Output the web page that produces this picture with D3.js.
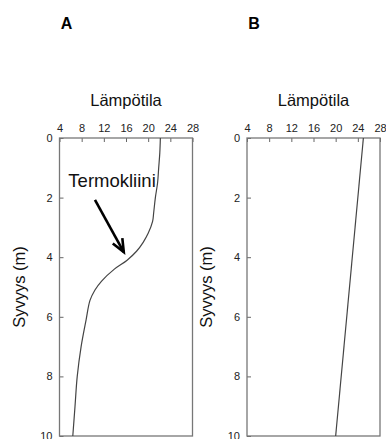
<!DOCTYPE html>
<html>
<head>
<meta charset="utf-8">
<script src="https://cdn.jsdelivr.net/npm/d3@7"></script>
<style>
  body { margin: 0; background: #fff; }
  svg { display: block; font-family: 'Liberation Sans', Arial, sans-serif; }
</style>
</head>
<body>
<div id="chart"></div>
<script>
// data
const xTicks = [4, 8, 12, 16, 20, 24, 28];
const yTicks = [0, 2, 4, 6, 8, 10];

// panel A: lake with thermocline
const depthA = [0, 0.5, 1, 1.5, 2, 2.5, 2.8, 3.2, 3.5, 3.8, 4.1, 4.4, 4.8, 5.1, 5.45, 6.1, 7.0, 8.0, 9.0, 10];
const tempA  = [22.2, 22.1, 21.9, 21.7, 21.3, 21.0, 20.8, 20.0, 19.1, 17.9, 16.2, 13.9, 11.6, 10.4, 9.5, 8.8, 7.9, 7.2, 6.8, 6.4];

// panel B: mixed lake
const depthB = [0, 10];
const tempB  = [25, 20];

const panels = [
  {letter: 'A', left: 59.5, depth: depthA, temp: tempA},
  {letter: 'B', left: 247, depth: depthB, temp: tempB}
];

const width = 386, height = 439;
const plotW = 133, plotTop = 138, plotBottom = 436;

const svg = d3.select('#chart')
  .append('svg')
  .attr('width', width)
  .attr('height', height);

panels.forEach(p => {
  const g = svg.append('g').attr('transform', `translate(${p.left},${plotTop})`);

  const x = d3.scaleLinear().domain([4, 28]).range([0, plotW]);
  const y = d3.scaleLinear().domain([0, 10]).range([0, plotBottom - plotTop]);

  //panel letter
  svg.append('text')
    .attr('x', p.left + 7)
    .attr('y', 29)
    .attr('text-anchor', 'middle')
    .style('font-size', '16px')
    .style('font-weight', 'bold')
    .text(p.letter);

  //axis title on top
  g.append('text')
    .attr('x', plotW / 2)
    .attr('y', -32)
    .attr('text-anchor', 'middle')
    .style('font-size', '16.5px')
    .style('fill', '#111')
    .text('Lämpötila');

  //y title
  g.append('text')
    .attr('transform', `translate(${-35},${(plotBottom - plotTop) / 2}) rotate(-90)`)
    .attr('text-anchor', 'middle')
    .style('font-size', '16.5px')
    .style('fill', '#111')
    .text('Syvyys (m)');

  const xAxis = g.append('g')
    .call(d3.axisTop(x).tickValues(xTicks).tickSize(-4).tickPadding(6));
  const yAxis = g.append('g')
    .call(d3.axisLeft(y).tickValues(yTicks).tickSize(-4).tickPadding(7));

  [xAxis, yAxis].forEach(a => {
    a.select('.domain').remove();
    a.selectAll('line').attr('stroke', '#666');
    a.selectAll('text').style('font-size', '11px').style('font-family', "'Liberation Sans', Arial, sans-serif").attr('fill', '#222');
  });

  //frame
  g.append('rect')
    .attr('x', 0)
    .attr('y', 0)
    .attr('width', plotW)
    .attr('height', plotBottom - plotTop)
    .attr('fill', 'none')
    .attr('stroke', '#777')
    .attr('stroke-width', 1.3);

  const line = d3.line()
    .x(d => x(d[1]))
    .y(d => y(d[0]))
    .curve(d3.curveCatmullRom);

  g.append('path')
    .datum(d3.zip(p.depth, p.temp))
    .attr('d', line)
    .attr('fill', 'none')
    .attr('stroke', '#444')
    .attr('stroke-width', 1.2);

  if (p.letter === 'A') {
    //thermocline annotation
    g.append('text')
      .attr('x', x(5.6))
      .attr('y', y(1.65))
      .style('font-size', '18.5px')
      .style('fill', '#111')
      .text('Termokliini');

    const x0 = x(10.4), y0 = y(2.08), x1 = x(15.6), y1 = y(3.83);
    const ang = Math.atan2(y1 - y0, x1 - x0);
    const hl = 14, ha = 0.4;
    g.append('line')
      .attr('x1', x0).attr('y1', y0)
      .attr('x2', x1).attr('y2', y1)
      .attr('stroke', '#000')
      .attr('stroke-width', 2.6);
    g.append('path')
      .attr('d', `M${x1 - hl * Math.cos(ang - ha)},${y1 - hl * Math.sin(ang - ha)}L${x1},${y1}L${x1 - hl * Math.cos(ang + ha)},${y1 - hl * Math.sin(ang + ha)}`)
      .attr('fill', 'none')
      .attr('stroke', '#000')
      .attr('stroke-width', 2.6);
  }
});
</script>
</body>
</html>
